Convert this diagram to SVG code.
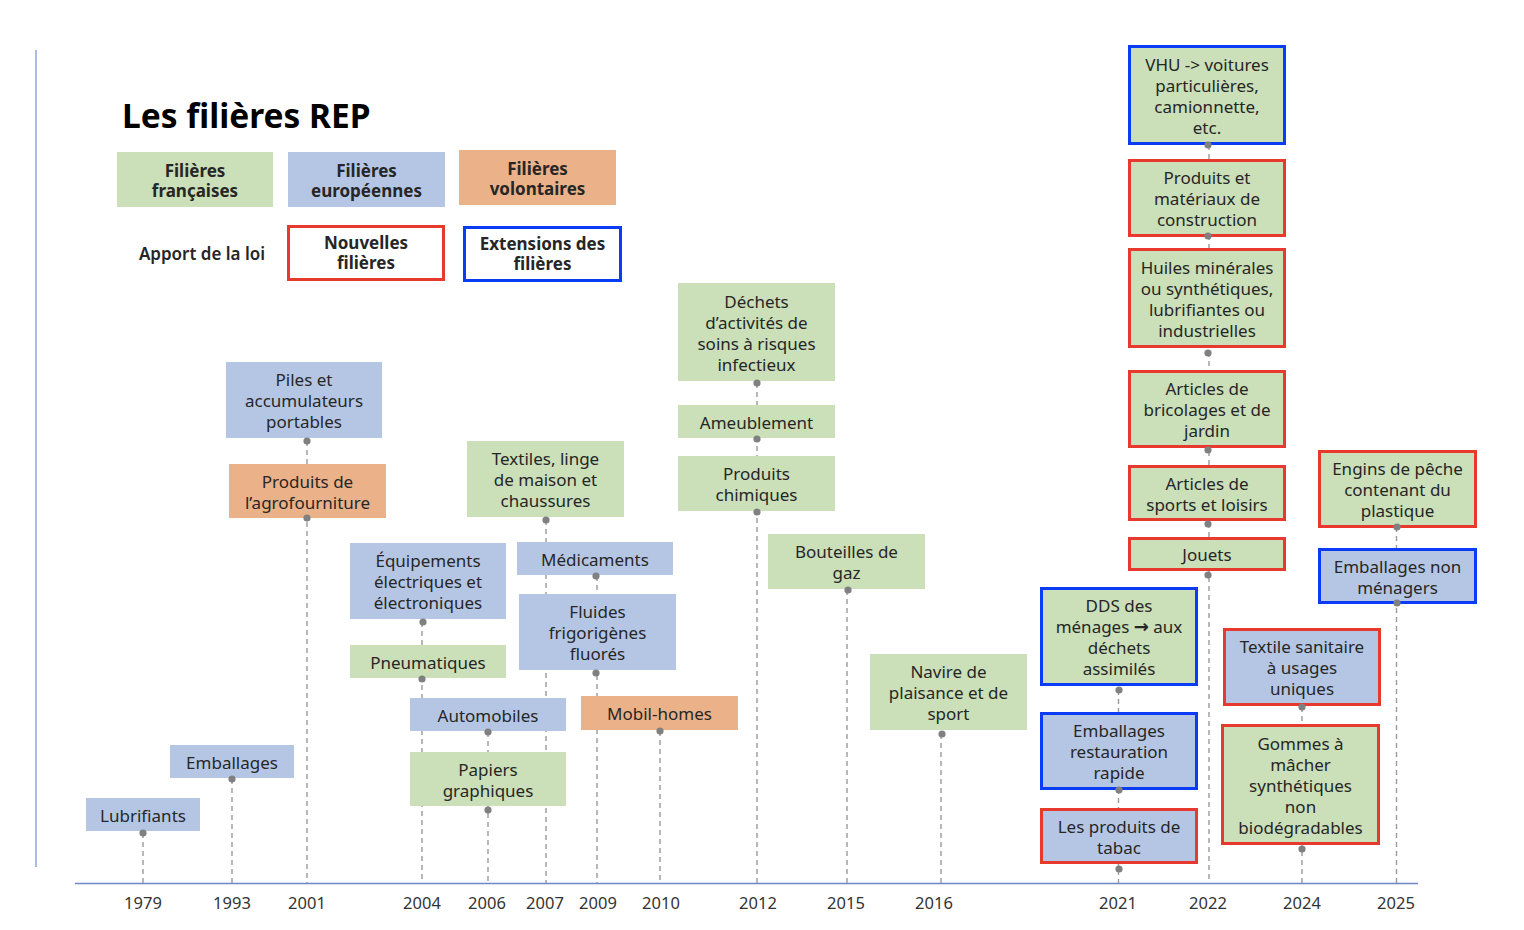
<svg xmlns="http://www.w3.org/2000/svg" width="1524" height="930" viewBox="0 0 1524 930">
<style>
text{font-family:"Noto Sans","Open Sans",sans-serif;fill:#262626;text-anchor:middle;font-size:17px}
.b{font-weight:bold}
.title{font-size:33.5px;font-weight:bold;text-anchor:start;fill:#000}
.yr{font-size:16.5px;fill:#333}
.fr{fill:#cbdfb8}
.eu{fill:#b5c6e5}
.vo{fill:#ebb189}
.red{stroke:#e8392e;stroke-width:3}
.blu{stroke:#0a3cf5;stroke-width:3}
.dash{stroke:#9a9a9a;stroke-width:1.4;stroke-dasharray:5 4;fill:none}
.dot{fill:#808080}
.arr{font-family:"DejaVu Sans",sans-serif;font-weight:bold;font-size:18px}
</style>
<defs><circle id="d" r="3.6" class="dot"/></defs>
<rect width="1524" height="930" fill="#fff"/>
<line x1="36" y1="50" x2="36" y2="867" stroke="#a9bde6" stroke-width="2"/>
<g id="legend">
<text x="122" y="128" class="title">Les filières REP</text>
<rect x="117" y="152" width="156" height="55" class="fr"/>
<text x="195" y="177" class="b">Filières<tspan x="195" y="197">françaises</tspan></text>
<rect x="288" y="152" width="157" height="55" class="eu"/>
<text x="366.5" y="177" class="b">Filières<tspan x="366.5" y="197">européennes</tspan></text>
<rect x="459" y="150" width="157" height="55" class="vo"/>
<text x="537.5" y="175" class="b">Filières<tspan x="537.5" y="195">volontaires</tspan></text>
<text x="202" y="260" style="font-weight:600">Apport de la loi</text>
<rect x="288.5" y="226.5" width="155" height="53" fill="#fff" class="red"/>
<text x="366" y="249" class="b">Nouvelles<tspan x="366" y="269">filières</tspan></text>
<rect x="464.5" y="227.5" width="156" height="53" fill="#fff" class="blu"/>
<text x="542.5" y="250" class="b">Extensions des<tspan x="542.5" y="270">filières</tspan></text>
</g>
<g id="connectors">
<line x1="75" y1="883.5" x2="1418" y2="883.5" stroke="#6f86c6" stroke-width="1.5"/>
<line x1="143" y1="833" x2="143" y2="883" class="dash"/>
<line x1="232" y1="779" x2="232" y2="883" class="dash"/>
<line x1="307" y1="441" x2="307" y2="883" class="dash"/>
<line x1="422" y1="622" x2="422" y2="883" class="dash"/>
<line x1="488" y1="732" x2="488" y2="883" class="dash"/>
<line x1="546" y1="520" x2="546" y2="883" class="dash"/>
<line x1="597" y1="576" x2="597" y2="883" class="dash"/>
<line x1="660" y1="731" x2="660" y2="883" class="dash"/>
<line x1="757" y1="383" x2="757" y2="883" class="dash"/>
<line x1="847" y1="590" x2="847" y2="883" class="dash"/>
<line x1="941" y1="734" x2="941" y2="883" class="dash"/>
<line x1="1118.5" y1="690" x2="1118.5" y2="883" class="dash"/>
<line x1="1209" y1="145" x2="1209" y2="883" class="dash"/>
<line x1="1302" y1="707" x2="1302" y2="883" class="dash"/>
<line x1="1396.5" y1="527" x2="1396.5" y2="883" class="dash"/>
</g>
<g id="years">
<text x="143" y="909" class="yr">1979</text>
<text x="232" y="909" class="yr">1993</text>
<text x="307" y="909" class="yr">2001</text>
<text x="422" y="909" class="yr">2004</text>
<text x="487" y="909" class="yr">2006</text>
<text x="545" y="909" class="yr">2007</text>
<text x="598" y="909" class="yr">2009</text>
<text x="661" y="909" class="yr">2010</text>
<text x="758" y="909" class="yr">2012</text>
<text x="846" y="909" class="yr">2015</text>
<text x="934" y="909" class="yr">2016</text>
<text x="1118" y="909" class="yr">2021</text>
<text x="1208" y="909" class="yr">2022</text>
<text x="1302" y="909" class="yr">2024</text>
<text x="1396" y="909" class="yr">2025</text>
</g>
<g id="n-lubrifiants"><rect x="86" y="798" width="114" height="33" class="eu"/><text x="143" y="822">Lubrifiants</text><use href="#d" x="143" y="833"/></g>
<g id="n-emballages"><rect x="170" y="745" width="124" height="33" class="eu"/><text x="232" y="769">Emballages</text><use href="#d" x="232" y="779"/></g>
<g id="n-piles"><rect x="226" y="362" width="156" height="76" class="eu"/><text x="304" y="386">Piles et<tspan x="304" y="407">accumulateurs</tspan><tspan x="304" y="428">portables</tspan></text><use href="#d" x="307" y="441"/></g>
<g id="n-agro"><rect x="229" y="464" width="157" height="54" class="vo"/><text x="307.5" y="488">Produits de<tspan x="307.5" y="509">l’agrofourniture</tspan></text><use href="#d" x="307" y="518"/></g>
<g id="n-deee"><rect x="350" y="543" width="156" height="76" class="eu"/><text x="428" y="567">Équipements<tspan x="428" y="588">électriques et</tspan><tspan x="428" y="609">électroniques</tspan></text><use href="#d" x="423" y="622"/></g>
<g id="n-pneu"><rect x="350" y="645" width="156" height="33" class="fr"/><text x="428" y="669">Pneumatiques</text><use href="#d" x="422" y="679"/></g>
<g id="n-auto"><rect x="410" y="698" width="156" height="33" class="eu"/><text x="488" y="722">Automobiles</text><use href="#d" x="488" y="732"/></g>
<g id="n-papiers"><rect x="410" y="752" width="156" height="54" class="fr"/><text x="488" y="776">Papiers<tspan x="488" y="797">graphiques</tspan></text><use href="#d" x="488" y="810"/></g>
<g id="n-textiles"><rect x="467" y="441" width="157" height="76" class="fr"/><text x="545.5" y="465">Textiles, linge<tspan x="545.5" y="486">de maison et</tspan><tspan x="545.5" y="507">chaussures</tspan></text><use href="#d" x="546" y="520"/></g>
<g id="n-medic"><rect x="517" y="542" width="156" height="33" class="eu"/><text x="595" y="566">Médicaments</text><use href="#d" x="596" y="576"/></g>
<g id="n-fluides"><rect x="519" y="594" width="157" height="76" class="eu"/><text x="597.5" y="618">Fluides<tspan x="597.5" y="639">frigorigènes</tspan><tspan x="597.5" y="660">fluorés</tspan></text><use href="#d" x="596" y="673"/></g>
<g id="n-mobil"><rect x="581" y="696" width="157" height="34" class="vo"/><text x="659.5" y="720">Mobil-homes</text><use href="#d" x="660" y="731"/></g>
<g id="n-dasri"><rect x="678" y="283" width="157" height="98" class="fr"/><text x="756.5" y="308">Déchets<tspan x="756.5" y="329">d’activités de</tspan><tspan x="756.5" y="350">soins à risques</tspan><tspan x="756.5" y="371">infectieux</tspan></text><use href="#d" x="757" y="383"/></g>
<g id="n-ameub"><rect x="678" y="405" width="157" height="33" class="fr"/><text x="756.5" y="429">Ameublement</text><use href="#d" x="757" y="439"/></g>
<g id="n-chim"><rect x="678" y="456" width="157" height="55" class="fr"/><text x="756.5" y="480">Produits<tspan x="756.5" y="501">chimiques</tspan></text><use href="#d" x="757" y="512"/></g>
<g id="n-gaz"><rect x="768" y="534" width="157" height="55" class="fr"/><text x="846.5" y="558">Bouteilles de<tspan x="846.5" y="579">gaz</tspan></text><use href="#d" x="848" y="590"/></g>
<g id="n-navire"><rect x="870" y="654" width="157" height="76" class="fr"/><text x="948.5" y="678">Navire de<tspan x="948.5" y="699">plaisance et de</tspan><tspan x="948.5" y="720">sport</tspan></text><use href="#d" x="942" y="734"/></g>
<g id="n-dds"><rect x="1041.5" y="588.5" width="155" height="96" class="fr blu"/><text x="1119" y="612">DDS des<tspan x="1119" y="633">ménages <tspan class="arr">→</tspan> aux</tspan><tspan x="1119" y="654">déchets</tspan><tspan x="1119" y="675">assimilés</tspan></text><use href="#d" x="1119" y="690"/></g>
<g id="n-restau"><rect x="1041.5" y="713.5" width="155" height="75" class="eu blu"/><text x="1119" y="737">Emballages<tspan x="1119" y="758">restauration</tspan><tspan x="1119" y="779">rapide</tspan></text><use href="#d" x="1119" y="790"/></g>
<g id="n-tabac"><rect x="1041.5" y="809.5" width="155" height="53" class="eu red"/><text x="1119" y="833">Les produits de<tspan x="1119" y="854">tabac</tspan></text><use href="#d" x="1119" y="869"/></g>
<g id="n-vhu"><rect x="1129.5" y="46.5" width="155" height="97" class="fr blu"/><text x="1207" y="71">VHU -&gt; voitures<tspan x="1207" y="92">particulières,</tspan><tspan x="1207" y="113">camionnette,</tspan><tspan x="1207" y="134">etc.</tspan></text><use href="#d" x="1208" y="145"/></g>
<g id="n-btp"><rect x="1129.5" y="160.5" width="155" height="75" class="fr red"/><text x="1207" y="184">Produits et<tspan x="1207" y="205">matériaux de</tspan><tspan x="1207" y="226">construction</tspan></text><use href="#d" x="1208" y="236"/></g>
<g id="n-huiles"><rect x="1129.5" y="249.5" width="155" height="97" class="fr red"/><text x="1207" y="274">Huiles minérales<tspan x="1207" y="295">ou synthétiques,</tspan><tspan x="1207" y="316">lubrifiantes ou</tspan><tspan x="1207" y="337">industrielles</tspan></text><use href="#d" x="1208" y="353"/></g>
<g id="n-brico"><rect x="1129.5" y="371.5" width="155" height="75" class="fr red"/><text x="1207" y="395">Articles de<tspan x="1207" y="416">bricolages et de</tspan><tspan x="1207" y="437">jardin</tspan></text><use href="#d" x="1208" y="450"/></g>
<g id="n-sport"><rect x="1129.5" y="466.5" width="155" height="53" class="fr red"/><text x="1207" y="490">Articles de<tspan x="1207" y="511">sports et loisirs</tspan></text><use href="#d" x="1208" y="524"/></g>
<g id="n-jouets"><rect x="1129.5" y="538.5" width="155" height="31" class="fr red"/><text x="1207" y="561">Jouets</text><use href="#d" x="1208" y="575"/></g>
<g id="n-textsan"><rect x="1224.5" y="629.5" width="155" height="75" class="eu red"/><text x="1302" y="653">Textile sanitaire<tspan x="1302" y="674">à usages</tspan><tspan x="1302" y="695">uniques</tspan></text><use href="#d" x="1302" y="707"/></g>
<g id="n-gommes"><rect x="1222.5" y="725.5" width="156" height="118" class="fr red"/><text x="1300.5" y="750">Gommes à<tspan x="1300.5" y="771">mâcher</tspan><tspan x="1300.5" y="792">synthétiques</tspan><tspan x="1300.5" y="813">non</tspan><tspan x="1300.5" y="834">biodégradables</tspan></text><use href="#d" x="1302" y="849"/></g>
<g id="n-peche"><rect x="1319.5" y="451.5" width="156" height="75" class="fr red"/><text x="1397.5" y="475">Engins de pêche<tspan x="1397.5" y="496">contenant du</tspan><tspan x="1397.5" y="517">plastique</tspan></text><use href="#d" x="1397" y="527"/></g>
<g id="n-nonmen"><rect x="1319.5" y="549.5" width="156" height="53" class="eu blu"/><text x="1397.5" y="573">Emballages non<tspan x="1397.5" y="594">ménagers</tspan></text><use href="#d" x="1397" y="603"/></g>
</svg>
